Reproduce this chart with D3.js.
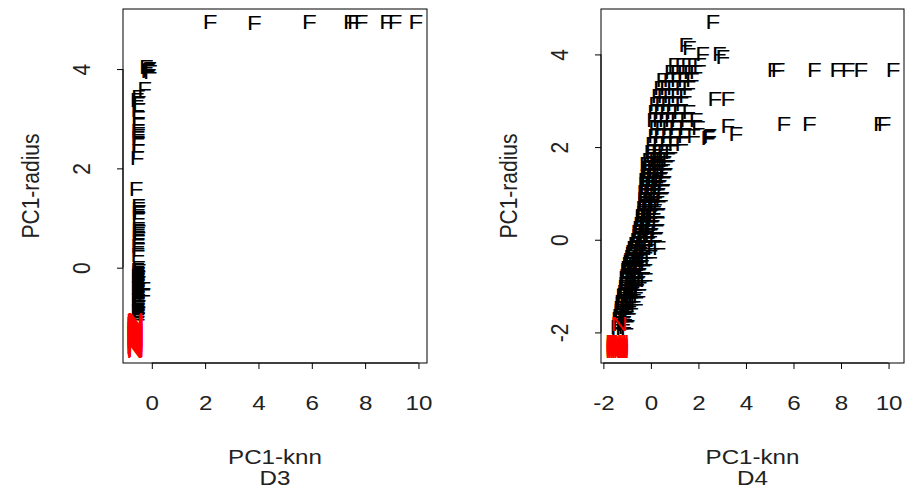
<!DOCTYPE html>
<html>
<head>
<meta charset="utf-8">
<script src="https://cdn.jsdelivr.net/npm/d3@7/dist/d3.min.js"></script>
<style>
  body { margin: 0; background: #fff; }
  text { font-family: "Liberation Sans", Arial, sans-serif; }
</style>
</head>
<body>
<script>
// D3 panel: class F points (black) and class N points (red), [PC1-knn, PC1-radius]
var d3F = [
  [2.19,4.95],[3.85,4.93],[5.91,4.95],[7.45,4.95],[7.6,4.95],[7.85,4.95],[8.81,4.95],[9.12,4.95],[9.9,4.95],
  [-0.2,4.05],[-0.12,4.0],[-0.05,3.95],[-0.15,3.97],[-0.08,4.02],[-0.27,3.62],
  [-0.5,3.44],[-0.55,3.38],[-0.48,3.32],[-0.52,3.18],[-0.5,3.03],[-0.5,2.91],[-0.52,2.77],[-0.5,2.71],
  [-0.5,2.66],[-0.52,2.63],[-0.5,2.51],[-0.52,2.37],[-0.55,2.23],[-0.59,1.6],
  [-0.5,1.26],[-0.5,1.2],[-0.48,1.13],[-0.5,1.11],[-0.5,1.02],[-0.5,0.8],[-0.5,0.75],[-0.48,0.72],
  [-0.5,0.68],[-0.5,0.6],[-0.5,0.52],[-0.52,0.44],[-0.5,0.36],[-0.52,0.26],
  [-0.5,0.0],[-0.53,-0.03],[-0.48,-0.06],[-0.52,-0.09],[-0.5,-0.12],[-0.54,-0.15],[-0.49,-0.18],
  [-0.52,-0.21],[-0.5,-0.24],[-0.53,-0.27],[-0.48,-0.3],[-0.52,-0.33],[-0.5,-0.36],[-0.54,-0.39],
  [-0.49,-0.42],[-0.52,-0.45],[-0.5,-0.48],[-0.53,-0.51],[-0.48,-0.54],[-0.52,-0.57],[-0.5,-0.6],
  [-0.54,-0.63],[-0.49,-0.66],[-0.52,-0.69],[-0.5,-0.72],[-0.53,-0.75],[-0.48,-0.78],[-0.52,-0.81],
  [-0.5,-0.84],[-0.54,-0.87],[-0.49,-0.9],[-0.52,-0.93],[-0.5,-0.96],[-0.53,-0.99],[-0.5,-1.02],
  [-0.3,-0.41],[-0.3,-0.53]
];
var d3N = [
  [-0.62,-1.04],[-0.65,-1.06],[-0.6,-1.08],[-0.63,-1.1],[-0.66,-1.12],[-0.61,-1.14],[-0.64,-1.16],
  [-0.6,-1.18],[-0.63,-1.2],[-0.66,-1.22],[-0.62,-1.24],[-0.6,-1.26],[-0.64,-1.28],[-0.66,-1.3],
  [-0.61,-1.32],[-0.63,-1.34],[-0.6,-1.36],[-0.65,-1.38],[-0.62,-1.4],[-0.66,-1.42],[-0.6,-1.44],
  [-0.63,-1.46],[-0.65,-1.48],[-0.61,-1.5],[-0.64,-1.52],[-0.6,-1.54],[-0.63,-1.56],[-0.66,-1.58],
  [-0.62,-1.6],[-0.64,-1.62],[-0.6,-1.64],[-0.63,-1.66]
];

// D4 panel
var d4F = [
  [2.61,4.71],[1.47,4.21],[1.62,4.15],[2.18,4.02],[2.88,4.02],[3.03,3.95],
  [5.18,3.67],[5.35,3.67],[6.88,3.67],[7.83,3.67],[8.3,3.67],[8.84,3.67],[10.19,3.67],
  [2.69,3.05],[3.24,3.05],[5.6,2.52],[6.67,2.52],[9.66,2.52],[9.81,2.52],
  [3.24,2.46],[3.58,2.3],[2.44,2.23],[2.48,2.25],[2.4,2.21],
  [1.0,3.78],[1.3,3.78],[1.55,3.78],[1.8,3.78],[2.05,3.78],
  [0.85,3.63],[1.1,3.63],[1.4,3.63],[1.65,3.63],[1.9,3.63],
  [0.5,3.46],[0.8,3.46],[1.1,3.46],[1.4,3.46],[1.75,3.46],
  [0.4,3.28],[0.65,3.28],[0.95,3.28],[1.3,3.28],[1.6,3.28],
  [0.3,3.11],[0.55,3.11],[0.8,3.11],[1.1,3.11],[1.45,3.11],
  [0.2,2.94],[0.45,2.94],[0.7,2.94],[0.95,2.94],[1.3,2.94],
  [0.15,2.76],[0.4,2.76],[0.65,2.76],[0.9,2.76],[1.2,2.76],[1.6,2.76],
  [0.1,2.59],[0.35,2.59],[0.6,2.59],[0.85,2.59],[1.1,2.59],[1.5,2.59],[1.9,2.59],
  [0.2,2.42],[0.45,2.42],[0.75,2.42],[1.05,2.42],[1.45,2.42],[2.0,2.42],
  [0.15,2.25],[0.4,2.25],[0.7,2.25],[1.0,2.25],[1.4,2.25],[1.8,2.25],
  [0.05,2.07],[0.35,2.07],[0.65,2.07],[1.0,2.07],[1.3,2.07],
  [0.0,1.9],[0.3,1.9],[0.55,1.9],[0.85,1.9],
  [-0.1,1.73],[0.2,1.73],[0.45,1.73],[0.75,1.73],
  [-0.15,1.56],[0.1,1.56],[0.35,1.56],[0.65,1.56],
  [-0.2,1.38],[0.05,1.38],[0.3,1.38],[0.6,1.38],
  [-0.25,1.21],[0.0,1.21],[0.25,1.21],[0.55,1.21],
  [-0.3,1.04],[-0.05,1.04],[0.2,1.04],[0.5,1.04],
  [-0.3,0.86],[-0.1,0.86],[0.15,0.86],[0.45,0.86],
  [-0.35,0.69],[-0.15,0.69],[0.1,0.69],[0.35,0.69],
  [-0.4,0.52],[-0.2,0.52],[0.05,0.52],[0.3,0.52],
  [-0.45,0.35],[-0.25,0.35],[0.0,0.35],[0.3,0.35],
  [-0.55,0.17],[-0.3,0.17],[-0.05,0.17],[0.25,0.17],
  [-0.6,0.0],[-0.35,0.0],[-0.1,0.0],[0.2,0.0],
  [-0.75,-0.17],[-0.45,-0.17],[-0.2,-0.17],[0.1,-0.17],[0.35,-0.17],
  [-0.85,-0.35],[-0.55,-0.35],[-0.3,-0.35],[0.0,-0.35],
  [-0.95,-0.52],[-0.7,-0.52],[-0.45,-0.52],[-0.2,-0.52],
  [-1.0,-0.69],[-0.8,-0.69],[-0.55,-0.69],[-0.3,-0.69],
  [-1.05,-0.86],[-0.85,-0.86],[-0.6,-0.86],[-0.35,-0.86],[-0.2,-0.86],
  [-1.1,-1.04],[-0.9,-1.04],[-0.65,-1.04],[-0.45,-1.04],
  [-1.2,-1.21],[-0.95,-1.21],[-0.7,-1.21],[-0.5,-1.21],
  [-1.25,-1.38],[-1.05,-1.38],[-0.8,-1.38],[-0.6,-1.38],
  [-1.3,-1.56],[-1.1,-1.56],[-0.9,-1.56],
  [-1.35,-1.73],[-1.15,-1.73],[-0.95,-1.73],
  [-1.4,-1.9],[-1.2,-1.9],[-1.0,-1.9],
  [0.05,1.81],[0.35,1.81],[0.6,1.81],
  [-0.05,1.64],[0.25,1.64],[0.55,1.64],
  [-0.1,1.47],[0.15,1.47],[0.45,1.47],
  [-0.15,1.3],[0.1,1.3],[0.4,1.3],
  [-0.2,1.12],[0.05,1.12],[0.35,1.12],
  [-0.25,0.95],[0.0,0.95],[0.3,0.95],
  [-0.3,0.78],[-0.05,0.78],[0.2,0.78],
  [-0.35,0.6],[-0.1,0.6],[0.15,0.6],
  [-0.4,0.43],[-0.15,0.43],[0.1,0.43],
  [-0.5,0.26],[-0.2,0.26],[0.05,0.26],
  [-0.55,0.09],[-0.25,0.09],[0.0,0.09],
  [-0.65,-0.09],[-0.4,-0.09],[-0.1,-0.09],
  [-0.8,-0.26],[-0.5,-0.26],[-0.2,-0.26],
  [-0.9,-0.43],[-0.6,-0.43],[-0.35,-0.43],
  [-1.0,-0.6],[-0.75,-0.6],[-0.45,-0.6],
  [-1.05,-0.78],[-0.8,-0.78],[-0.5,-0.78],
  [-1.1,-0.95],[-0.85,-0.95],[-0.55,-0.95],
  [-1.15,-1.12],[-0.9,-1.12],[-0.6,-1.12],
  [-1.2,-1.3],[-1.0,-1.3],[-0.7,-1.3],
  [-1.3,-1.47],[-1.05,-1.47],[-0.8,-1.47],
  [-1.35,-1.64],[-1.1,-1.64],
  [-1.35,-1.81],[-1.15,-1.81],
  [-0.2,1.65],[0.3,1.6],[-0.25,1.3],[0.25,1.25],[-0.3,0.9],[0.1,0.9],
  [-0.4,0.5],[0.0,0.5],[-0.5,0.2],[-0.15,0.2],
  [-0.68,-0.08],[-0.3,-0.08],[-0.82,-0.3],[-0.42,-0.3],[-0.92,-0.47],[-0.55,-0.47],
  [-1.02,-0.65],[-0.65,-0.65],[-1.08,-0.82],[-0.7,-0.82],[-1.12,-1.0],[-0.75,-1.0],
  [-1.18,-1.17],[-0.82,-1.17],[-1.25,-1.34],[-0.9,-1.34],[-1.3,-1.52],[-0.98,-1.52],
  [-1.38,-1.69],[-1.05,-1.69],[-1.42,-1.86],[-1.1,-1.86]
];
var d4N = [
  [-1.33,-1.8],
  [-1.58,-2.2],[-1.5,-2.2],[-1.42,-2.2],[-1.34,-2.2],[-1.26,-2.2],
  [-1.58,-2.25],[-1.5,-2.25],[-1.42,-2.25],[-1.34,-2.25],[-1.26,-2.25],
  [-1.58,-2.3],[-1.5,-2.3],[-1.42,-2.3],[-1.34,-2.3],[-1.26,-2.3],
  [-1.58,-2.34],[-1.5,-2.34],[-1.42,-2.34],[-1.34,-2.34],[-1.26,-2.34],
  [-1.58,-2.38],[-1.5,-2.38],[-1.42,-2.38],[-1.34,-2.38],[-1.26,-2.38]
];

var xTicks3 = [0, 2, 4, 6, 8, 10];
var yTicks3 = [0, 2, 4];
var xTicks4 = [-2, 0, 2, 4, 6, 8, 10];
var yTicks4 = [-2, 0, 2, 4];

var W = 915, H = 493, fs = 21, sx = 1.15;

var svg = d3.select("body").append("svg")
    .attr("width", W)
    .attr("height", H);

function panel(opt) {
    var left = opt.left, top = 9, w = opt.width, h = 354;

    var x = d3.scaleLinear().domain(opt.xDomain).range([left, left + w]);
    var y = d3.scaleLinear().domain(opt.yDomain).range([top + h, top]);

    var g = svg.append("g");

    // points, drawn as text labels like R's text()
    function marks(data, label, col) {
        g.selectAll(null)
            .data(data)
            .enter().append("text")
            .attr("transform", function(d) {
                return "translate(" + x(d[0]) + "," + y(d[1]) + ") scale(" + sx + ",1)";
            })
            .attr("dy", "0.36em")
            .attr("text-anchor", "middle")
            .attr("font-size", fs)
            .attr("fill", col)
            .text(label);
    }
    marks(opt.F, "F", "#000");
    marks(opt.N, "N", "#ff0000");

    // x axis
    var xa = g.append("g")
        .attr("transform", "translate(0," + (top + h) + ")")
        .call(d3.axisBottom(x).tickValues(opt.xTicks).tickSize(6).tickFormat(function(d) { return String(d); }));
    xa.select(".domain").attr("d", "M" + x(opt.xTicks[0]) + ",0H" + x(opt.xTicks[opt.xTicks.length - 1]));
    xa.selectAll("text")
        .attr("y", null).attr("dy", null)
        .attr("transform", "translate(0,47) scale(" + sx + ",1)")
        .attr("font-size", fs).attr("font-family", null).attr("fill", "#222");

    // y axis, labels parallel to the axis
    var ya = g.append("g")
        .attr("transform", "translate(" + left + ",0)")
        .call(d3.axisLeft(y).tickValues(opt.yTicks).tickSize(6).tickFormat(function(d) { return String(d); }));
    ya.select(".domain").attr("d", "M0," + y(opt.yTicks[0]) + "V" + y(opt.yTicks[opt.yTicks.length - 1]));
    ya.selectAll("text")
        .attr("x", 0).attr("dy", null)
        .attr("transform", "translate(-33,0) scale(" + sx + ",1) rotate(-90)")
        .attr("text-anchor", "middle")
        .attr("font-size", fs).attr("font-family", null).attr("fill", "#222");

    // box
    g.append("rect")
        .attr("x", left).attr("y", top)
        .attr("width", w).attr("height", h)
        .attr("fill", "none").attr("stroke", "#000").attr("stroke-width", 1);

    // titles
    var cx = left + w / 2;
    g.append("text").attr("transform", "translate(" + cx + ",464) scale(" + sx + ",1)")
        .attr("text-anchor", "middle").attr("fill", "#222")
        .attr("font-size", fs).text("PC1-knn");
    g.append("text").attr("transform", "translate(" + cx + ",485) scale(" + sx + ",1)")
        .attr("text-anchor", "middle").attr("fill", "#222")
        .attr("font-size", fs).text(opt.name);
    g.append("text")
        .attr("transform", "translate(" + (left - 84) + "," + (top + h / 2) + ") scale(" + sx + ",1) rotate(-90)")
        .attr("text-anchor", "middle").attr("fill", "#222")
        .attr("font-size", fs).text("PC1-radius");
}

panel({ left: 123, width: 304, xDomain: [-1.08, 10.32], yDomain: [-1.92, 5.21],
        xTicks: xTicks3, yTicks: yTicks3, F: d3F, N: d3N, name: "D3" });
panel({ left: 601, width: 303, xDomain: [-2.1, 10.65], yDomain: [-2.66, 4.98],
        xTicks: xTicks4, yTicks: yTicks4, F: d4F, N: d4N, name: "D4" });
</script>
</body>
</html>
